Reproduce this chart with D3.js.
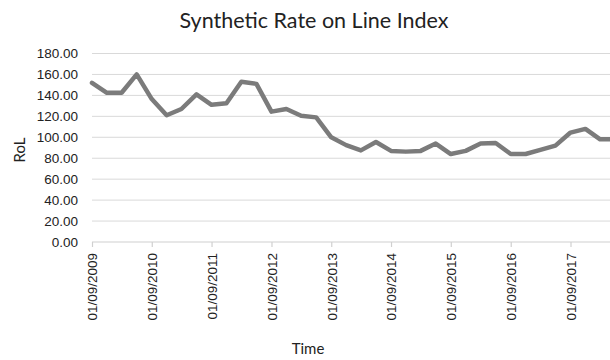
<!DOCTYPE html>
<html>
<head>
<meta charset="utf-8">
<script src="https://cdn.jsdelivr.net/npm/d3@7/dist/d3.min.js"></script>
<style>
  html, body { margin: 0; padding: 0; background: #fff; }
  svg { display: block; }
</style>
</head>
<body>
<svg id="chart" width="610" height="360"></svg>
<script>
// Quarterly Rate on Line index, first observation 01/09/2009
const startDate = "01/09/2009";
const rolValues = [
  152, 142.5, 142.5, 160,
  136.5, 121, 127, 141,
  131, 132.5, 153, 151,
  124.5, 127, 120.5, 119,
  100, 92.5, 87.5, 95.5,
  87, 86.3, 87, 94,
  84, 87, 94, 94.5,
  84, 84, 88, 92,
  104.5, 108, 98, 98
];
const xTickLabels = ["01/09/2009", "01/09/2010", "01/09/2011", "01/09/2012",
  "01/09/2013", "01/09/2014", "01/09/2015", "01/09/2016", "01/09/2017"];
const yTicks = [0, 20, 40, 60, 80, 100, 120, 140, 160, 180];

const parse = d3.timeParse("%d/%m/%Y");
const fmt = d3.timeFormat("%d/%m/%Y");
const t0 = parse(startDate);
const data = rolValues.map((v, i) => ({ date: d3.timeMonth.offset(t0, 3 * i), value: v }));
const tickDates = xTickLabels.map(parse);

const svg = d3.select("#chart");
const plotLeft = 92, plotRight = 610, plotTop = 53.5, plotBottom = 242;

const x = d3.scaleTime()
  .domain([tickDates[0], tickDates[tickDates.length - 1]])
  .range([plotLeft, 570.5]);
const y = d3.scaleLinear().domain([0, 180]).range([plotBottom, plotTop]);

// Title
svg.append("text")
  .attr("x", 314).attr("y", 28)
  .attr("text-anchor", "middle")
  .attr("font-family", "Lato, 'Open Sans', sans-serif")
  .attr("font-size", 21.5)
  .attr("fill", "#222")
  .text("Synthetic Rate on Line Index");

// Horizontal gridlines
svg.append("g").selectAll("line")
  .data(yTicks.filter(d => d > 0))
  .join("line")
  .attr("x1", plotLeft).attr("x2", plotRight)
  .attr("y1", d => y(d)).attr("y2", d => y(d))
  .attr("stroke", "#d9d9d9").attr("stroke-width", 1);

// Y axis labels
svg.append("g").selectAll("text")
  .data(yTicks)
  .join("text")
  .attr("x", 78).attr("y", d => y(d))
  .attr("dy", "0.36em")
  .attr("text-anchor", "end")
  .attr("font-family", "'Liberation Sans', Arial, sans-serif")
  .attr("font-size", 13.5)
  .attr("fill", "#222")
  .text(d => d3.format(".2f")(d));

// X axis
const xAxis = d3.axisBottom(x)
  .tickValues(tickDates)
  .tickFormat(fmt)
  .tickSize(5)
  .tickSizeOuter(0);
const gx = svg.append("g").attr("transform", `translate(0,${plotBottom})`).call(xAxis);
gx.select(".domain").attr("d", `M${plotLeft},0H${plotRight}`).attr("stroke", "#d0d0d0").attr("stroke-width", 1.2);
gx.selectAll(".tick line").attr("stroke", "#d0d0d0").attr("stroke-width", 1.2);
gx.selectAll(".tick text")
  .attr("font-family", "'Liberation Sans', Arial, sans-serif")
  .attr("font-size", 13.5)
  .attr("fill", "#222")
  .attr("text-anchor", "end")
  .attr("transform", "rotate(-90)")
  .attr("x", -11).attr("y", 0).attr("dy", "0.36em");

// Axis titles
svg.append("text")
  .attr("transform", "translate(25,150) rotate(-90)")
  .attr("text-anchor", "middle")
  .attr("font-family", "Lato, 'Open Sans', sans-serif")
  .attr("font-size", 15)
  .attr("fill", "#222")
  .text("RoL");
svg.append("text")
  .attr("x", 308).attr("y", 354)
  .attr("text-anchor", "middle")
  .attr("font-family", "Lato, 'Open Sans', sans-serif")
  .attr("font-size", 15)
  .attr("fill", "#222")
  .text("Time");

// Series line
svg.append("defs").append("clipPath").attr("id", "plot")
  .append("rect").attr("x", plotLeft - 5).attr("y", 0).attr("width", plotRight - plotLeft + 5).attr("height", 360);
svg.append("path")
  .datum(data)
  .attr("clip-path", "url(#plot)")
  .attr("fill", "none")
  .attr("stroke", "#7b7b7b")
  .attr("stroke-width", 4.5)
  .attr("stroke-linejoin", "round")
  .attr("stroke-linecap", "round")
  .attr("d", d3.line().x(d => x(d.date)).y(d => y(d.value)));
</script>
</body>
</html>
